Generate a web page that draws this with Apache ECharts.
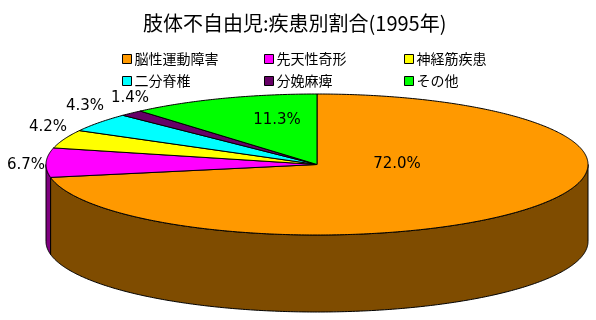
<!DOCTYPE html>
<html style="height: 100%;">
<head>
<meta charset="utf-8">
<title>肢体不自由児:疾患別割合(1995年)</title>
<script src="https://cdn.jsdelivr.net/npm/echarts@6/dist/echarts.min.js"></script>
</head>
<body style="height: 100%; margin: 0; background: #fff">
<div id="container" style="width: 596px; height: 320px"></div>
<script>
var categories = ['脳性運動障害', '先天性奇形', '神経筋疾患', '二分脊椎', '分娩麻痺', 'その他'];
var shares = [72.0, 6.7, 4.2, 4.3, 1.4, 11.3];

var topColors = ['#ff9900', '#ff00ff', '#ffff00', '#00ffff', '#660066', '#00ff00'];
var sideColors = ['#7f4c00', '#7f007f', '#7f7f00', '#007f7f', '#330033', '#007f00'];
var labelAnchors = [[397, 164], [26, 165], [48, 127], [85, 106], [130, 98], [277, 120]];

// 楕円の形
var pie = { cx: 317, cy: 164.5, rx: 271, ry: 70.5, depth: 77 };
var total = shares.reduce(function (a, b) { return a + b; }, 0);
var FONT = '"Noto Sans CJK JP", sans-serif';

function rimPoint(angle, dy) {
  return [pie.cx + pie.rx * Math.sin(angle), pie.cy - pie.ry * Math.cos(angle) + (dy || 0)];
}

function arcPoints(from, to, dy) {
  var pts = [];
  var steps = Math.max(2, Math.ceil(Math.abs(to - from) / 0.01));
  for (var i = 0; i <= steps; i++) {
    pts.push(rimPoint(from + (to - from) * i / steps, dy));
  }
  return pts;
}

function renderSlice(params, api) {
  var idx = params.seriesIndex;
  var before = 0;
  for (var i = 0; i < idx; i++) before += shares[i];
  var start = before / total * Math.PI * 2;
  var end = (before + api.value(0)) / total * Math.PI * 2;
  var children = [];

  // 手前に見える側面 (90度〜270度)
  var sFrom = Math.max(start, Math.PI / 2);
  var sTo = Math.min(end, Math.PI * 1.5);
  if (sFrom < sTo) {
    var upper = arcPoints(sFrom, sTo, 0);
    var lower = arcPoints(sTo, sFrom, pie.depth);
    children.push({
      type: 'polygon',
      shape: { points: upper.concat(lower) },
      style: { fill: sideColors[idx], stroke: '#000', lineWidth: 1 }
    });
  }

  children.push({
    type: 'polygon',
    shape: { points: [[pie.cx, pie.cy]].concat(arcPoints(start, end, 0)) },
    style: { fill: topColors[idx], stroke: '#000', lineWidth: 1 }
  });

  children.push({
    type: 'text',
    z2: 10,
    style: {
      x: labelAnchors[idx][0],
      y: labelAnchors[idx][1],
      text: api.value(0).toFixed(1) + '%',
      fill: '#000',
      font: '15px "DejaVu Sans", sans-serif',
      align: 'center',
      verticalAlign: 'middle'
    }
  });

  return { type: 'group', children: children };
}

function legendColumn(names, left) {
  return {
    orient: 'vertical',
    left: left,
    top: 49,
    padding: 0,
    itemWidth: 9,
    itemHeight: 9,
    itemGap: 2,
    selectedMode: false,
    icon: 'rect',
    data: names,
    itemStyle: { borderColor: '#000', borderWidth: 1 },
    textStyle: { fontFamily: FONT, fontSize: 14, color: '#000', height: 20, lineHeight: 20, padding: [0, 0, 0, -2] }
  };
}

var myChart = echarts.init(document.getElementById('container'), null, { renderer: 'canvas' });

myChart.setOption({
  animation: false,
  backgroundColor: '#fff',
  title: {
    text: '肢体不自由児:疾患別割合(1995年)',
    left: 138,
    top: 8,
    textStyle: { fontFamily: FONT, fontSize: 20, fontWeight: 'normal', color: '#000' }
  },
  legend: [
    legendColumn([categories[0], categories[3]], 122),
    legendColumn([categories[1], categories[4]], 264),
    legendColumn([categories[2], categories[5]], 404)
  ],
  series: categories.map(function (name, i) {
    return {
      type: 'custom',
      name: name,
      coordinateSystem: 'none',
      silent: true,
      clip: false,
      itemStyle: { color: topColors[i] },
      renderItem: renderSlice,
      data: [[shares[i]]]
    };
  })
});
</script>
</body>
</html>
